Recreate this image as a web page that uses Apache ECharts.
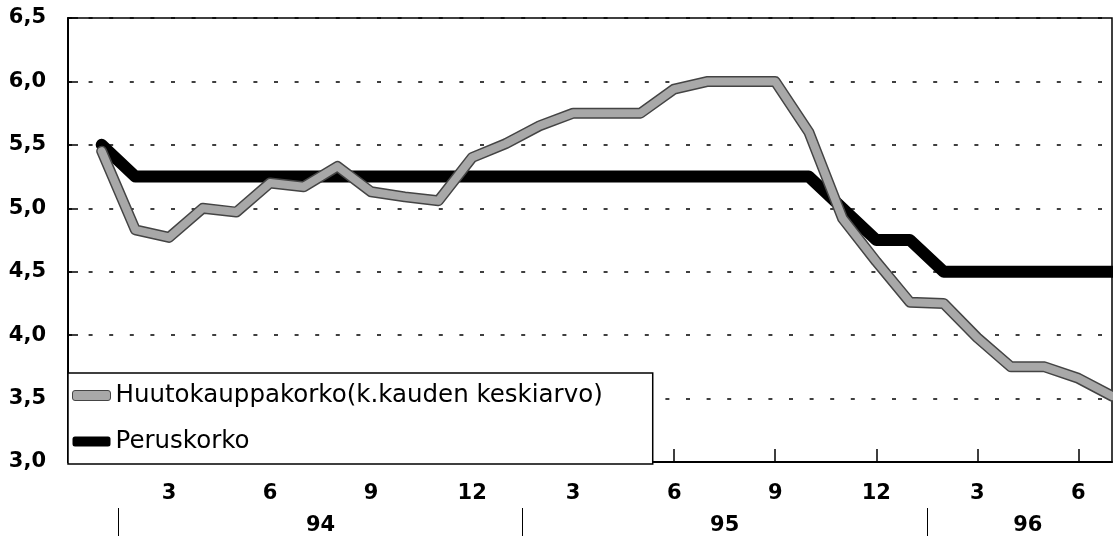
<!DOCTYPE html>
<html>
<head>
<meta charset="utf-8">
<script src="https://cdn.jsdelivr.net/npm/echarts@6/dist/echarts.min.js"></script>
<style>
  html, body { margin: 0; padding: 0; background: #fff; }
  #chart { width: 1113px; height: 536px; }
</style>
</head>
<body>
<div id="chart"></div>
<script type="text/javascript">
// kuukaudet: 1 = tammikuu 94 ... 31 = heinäkuu 96
var months = [1,2,3,4,5,6,7,8,9,10,11,12,13,14,15,16,17,18,19,20,21,22,23,24,25,26,27,28,29,30,31];
var auctionRate = [5.45,4.83,4.77,5.0,4.97,5.2,5.17,5.33,5.13,5.09,5.06,5.4,5.51,5.65,5.75,5.75,5.75,5.94,6.0,6.0,6.0,5.6,4.92,4.58,4.26,4.25,3.98,3.75,3.75,3.66,3.52];
var baseRate = [5.5,5.25,5.25,5.25,5.25,5.25,5.25,5.25,5.25,5.25,5.25,5.25,5.25,5.25,5.25,5.25,5.25,5.25,5.25,5.25,5.25,5.25,5.0,4.75,4.75,4.5,4.5,4.5,4.5,4.5,4.5];
var yearLabels = ['94', '95', '96'];
var yearCenters = [7.5, 19.5, 28.5];
var yearSeparators = [1.5, 13.5, 25.5];

var nameAuction = 'Huutokauppakorko(k.kauden keskiarvo)';
var nameBase = 'Peruskorko';

function pairs(ys) {
    var out = [];
    for (var i = 0; i < months.length; i++) out.push([months[i], ys[i]]);
    return out;
}

var labelFont = { fontFamily: 'DejaVu Sans', fontWeight: 'bold', fontSize: 21, color: '#000' };

var myChart = echarts.init(document.getElementById('chart'));
var option = {
    animation: false,
    backgroundColor: '#fff',
    grid: {
        left: 68, right: 1, top: 18, bottom: 74,
        show: true,
        borderColor: '#000',
        borderWidth: 1.5
    },
    legend: {
        orient: 'vertical',
        left: 68,
        top: 373,
        padding: [10, 50, 10, 4],
        itemGap: 21,
        itemWidth: 38,
        itemHeight: 10,
        backgroundColor: '#fff',
        borderColor: '#000',
        borderWidth: 1.5,
        borderRadius: 0,
        textStyle: { fontFamily: 'DejaVu Sans', fontSize: 24.5, color: '#000', lineHeight: 24 },
        data: [
            { name: nameAuction, icon: 'roundRect', itemStyle: { color: '#a8a8a8', borderColor: '#444', borderWidth: 1 } },
            { name: nameBase, icon: 'roundRect', itemStyle: { color: '#000' } }
        ]
    },
    xAxis: [{
        type: 'value',
        min: 0, max: 31, interval: 3,
        axisLine: { lineStyle: { color: '#000', width: 2 } },
        axisTick: { inside: true, length: 13, lineStyle: { color: '#000', width: 1.5 } },
        axisLabel: Object.assign({
            margin: 21,
            showMaxLabel: false,
            formatter: function (v) {
                if (v === 0 || v % 3 !== 0) return '';
                return String(((v - 1) % 12) + 1);
            }
        }, labelFont),
        splitLine: { show: false }
    }, {
        type: 'value',
        min: 0, max: 31,
        position: 'bottom',
        offset: 46,
        axisLine: { show: false },
        axisTick: { show: true, inside: false, length: 30, customValues: yearSeparators, lineStyle: { color: '#000', width: 1 } },
        axisLabel: Object.assign({
            margin: 7,
            customValues: yearCenters,
            formatter: function (v) {
                var i = yearCenters.indexOf(v);
                return i >= 0 ? yearLabels[i] : '';
            }
        }, labelFont),
        splitLine: { show: false }
    }],
    yAxis: {
        type: 'value',
        min: 3, max: 6.5, interval: 0.5,
        axisLine: { show: true, lineStyle: { color: '#000', width: 2 } },
        axisTick: { show: true, inside: true, length: 10, lineStyle: { color: '#000', width: 1.5 } },
        axisLabel: Object.assign({
            margin: 22,
            formatter: function (v) { return v.toFixed(1).replace('.', ','); }
        }, labelFont),
        splitLine: { show: true, lineStyle: { color: '#000', width: 1.5, type: [4, 16.6] } }
    },
    series: [
        {
            name: 'reuna',
            type: 'line',
            data: pairs(auctionRate),
            showSymbol: false,
            z: 3,
            lineStyle: { color: '#444', width: 11, cap: 'round', join: 'round' },
            itemStyle: { color: '#444' },
            silent: true
        },
        {
            name: nameBase,
            type: 'line',
            data: pairs(baseRate),
            showSymbol: false,
            z: 2,
            lineStyle: { color: '#000', width: 12, cap: 'round', join: 'round' },
            itemStyle: { color: '#000' }
        },
        {
            name: nameAuction,
            type: 'line',
            data: pairs(auctionRate),
            showSymbol: false,
            z: 4,
            lineStyle: { color: '#a8a8a8', width: 8, cap: 'round', join: 'round' },
            itemStyle: { color: '#a8a8a8' }
        }
    ]
};
myChart.setOption(option);
</script>
</body>
</html>
